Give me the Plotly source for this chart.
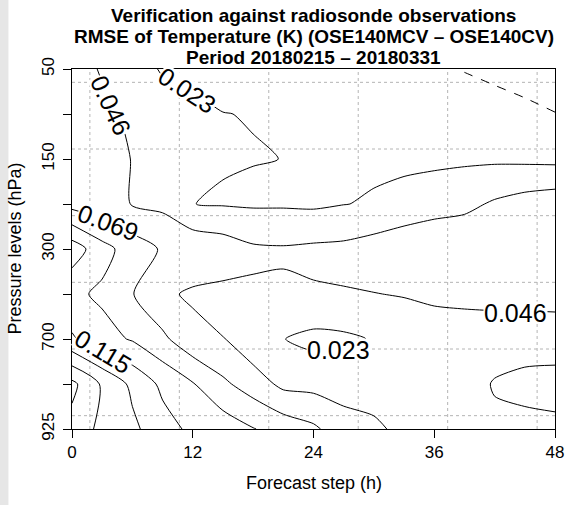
import plotly.graph_objects as go

# Forecast steps (h) of the grid
steps = [0, 3, 6, 9, 12, 15, 18, 21, 24, 27, 30, 33, 36, 39, 42, 45, 48]
# Pressure levels (hPa), top to bottom
levels = [50, 100, 150, 200, 300, 500, 700, 850, 925]
x_ticks = [0, 12, 24, 36, 48]

# RMSE difference (K), one row per pressure level
rmse_50 = [0.056, 0.044, 0.033, 0.021, 0.020, 0.0185, 0.0165, 0.0145, 0.0125, 0.0105, 0.0085, 0.0055, 0.0025, -0.0008, -0.003, -0.005, -0.007]
rmse_100 = [0.057, 0.051, 0.042, 0.034, 0.026, 0.0232, 0.0226, 0.020, 0.0185, 0.017, 0.0155, 0.014, 0.012, 0.010, 0.0053, 0.0028, 0.0003]
rmse_150 = [0.061, 0.053, 0.0455, 0.038, 0.028, 0.0243, 0.0235, 0.0229, 0.0215, 0.0205, 0.0195, 0.019, 0.0185, 0.0195, 0.0195, 0.0186, 0.0175]
rmse_200 = [0.061, 0.054, 0.045, 0.041, 0.0232, 0.0215, 0.0204, 0.0205, 0.0195, 0.0225, 0.0249, 0.0293, 0.0358, 0.040, 0.049, 0.0557, 0.060]
rmse_300 = [0.128, 0.100, 0.081, 0.0666, 0.063, 0.058, 0.0492, 0.048, 0.050, 0.0512, 0.0564, 0.0634, 0.066, 0.066, 0.063, 0.063, 0.062]
rmse_500 = [0.097, 0.088, 0.070, 0.050, 0.0428, 0.041, 0.0435, 0.0435, 0.0442, 0.0449, 0.0456, 0.047, 0.050, 0.051, 0.052, 0.052, 0.052]
rmse_700 = [0.118, 0.100, 0.090, 0.0738, 0.053, 0.0465, 0.030, 0.0235, 0.017, 0.0188, 0.0245, 0.0345, 0.035, 0.036, 0.0358, 0.036, 0.037]
rmse_850 = [0.190, 0.158, 0.133, 0.110, 0.0935, 0.0734, 0.058, 0.0405, 0.039, 0.0363, 0.0387, 0.037, 0.036, 0.037, 0.0475, 0.052, 0.0525]
rmse_925 = [0.176, 0.155, 0.143, 0.124, 0.110, 0.105, 0.093, 0.083, 0.073, 0.056, 0.049, 0.042, 0.040, 0.040, 0.042, 0.040, 0.042]

z = [rmse_50, rmse_100, rmse_150, rmse_200, rmse_300, rmse_500, rmse_700, rmse_850, rmse_925]
y = list(range(len(levels)))

STEP = 0.023          # contour interval (K)
N_LEVELS = 8          # solid contours 0.023 ... 0.184
FONT = "Liberation Sans, Arial, Helvetica, sans-serif"

# contour labels: (multiple of STEP, forecast step, level index, rotation)
label_specs = [(1, 11.5, 0.47, 33), (2, 3.9, 0.80, 65), (3, 3.6, 3.40, 20),
               (5, 3.1, 6.27, 31), (2, 44.1, 5.40, 0), (1, 26.5, 6.24, 0)]


def contour(start, end, dash):
    return go.Contour(
        x=steps, y=y, z=z,
        autocontour=False,
        contours=dict(start=start, end=end, size=STEP, coloring="none", showlabels=False),
        line=dict(color="black", width=1, dash=dash, smoothing=0.7),
        showscale=False, hoverinfo="skip",
    )


fig = go.Figure()
fig.add_trace(contour(-STEP, 0.0, "dash"))                       # zero line, dashed
fig.add_trace(contour(STEP, N_LEVELS * STEP + 1e-4, "solid"))    # positive levels

# dotted grid (drawn in R at positions 1..6 of a 0.8..6.2 user range)
shapes = []
for k in range(1, 7):
    f = (k - 0.8) / 5.4
    shapes.append(dict(type="line", xref="paper", yref="paper", x0=f, x1=f, y0=0, y1=1,
                       line=dict(color="#b4b4b4", width=1, dash="dot"), layer="below"))
    shapes.append(dict(type="line", xref="paper", yref="paper", x0=0, x1=1, y0=1 - f, y1=1 - f,
                       line=dict(color="#b4b4b4", width=1, dash="dot"), layer="below"))
# light grey strip at the left edge of the page
shapes.append(dict(type="rect", xref="paper", yref="paper", x0=-0.1503, x1=-0.1316,
                   y0=-0.212, y1=1.195, fillcolor="#e6e6e6", line=dict(width=0), layer="below"))

annotations = []
for mult, lx, ly, ang in label_specs:
    annotations.append(dict(text="%.3f" % (mult * STEP), x=lx, y=ly, xref="x", yref="y",
                            showarrow=False, xanchor="center", yanchor="middle",
                            textangle=ang, bgcolor="white", borderpad=0, height=21,
                            font=dict(size=25, color="black", family=FONT)))

titles = ["Verification against radiosonde observations",
          "RMSE of Temperature (K) (OSE140MCV \u2013 OSE140CV)",
          "Period 20180215 \u2013 20180331"]
title_y = [1.1486, 1.0903, 1.0319]
for t, ty in zip(titles, title_y):
    annotations.append(dict(text="<b>%s</b>" % t, x=0.5, y=ty, xref="paper", yref="paper",
                            showarrow=False, xanchor="center", yanchor="middle",
                            font=dict(size=19, color="black", family=FONT)))
annotations.append(dict(text="Forecast step (h)", x=0.5, y=-0.15, xref="paper", yref="paper",
                        showarrow=False, xanchor="center", yanchor="middle",
                        font=dict(size=18, color="black", family=FONT)))
annotations.append(dict(text="Pressure levels (hPa)", x=-0.119, y=0.5, xref="paper", yref="paper",
                        showarrow=False, xanchor="center", yanchor="middle", textangle=-90,
                        font=dict(size=18, color="black", family=FONT)))

axis_common = dict(showgrid=False, zeroline=False, showline=True, mirror=True,
                   linecolor="black", linewidth=1, ticks="outside", ticklen=8,
                   tickcolor="black", tickfont=dict(size=17, color="black", family=FONT))

fig.update_layout(
    width=581, height=505,
    margin=dict(l=72, r=26, t=69, b=76),
    paper_bgcolor="white", plot_bgcolor="white",
    showlegend=False,
    shapes=shapes,
    annotations=annotations,
    xaxis=dict(range=[0, 48], tickvals=x_ticks, ticktext=[str(v) for v in x_ticks], **axis_common),
    yaxis=dict(range=[8, 0], tickvals=y,
               ticktext=[str(l) if i % 2 == 0 else "" for i, l in enumerate(levels)],
               tickangle=-90, ticklabelstandoff=2, **axis_common),
)

fig.write_html("out.html")
